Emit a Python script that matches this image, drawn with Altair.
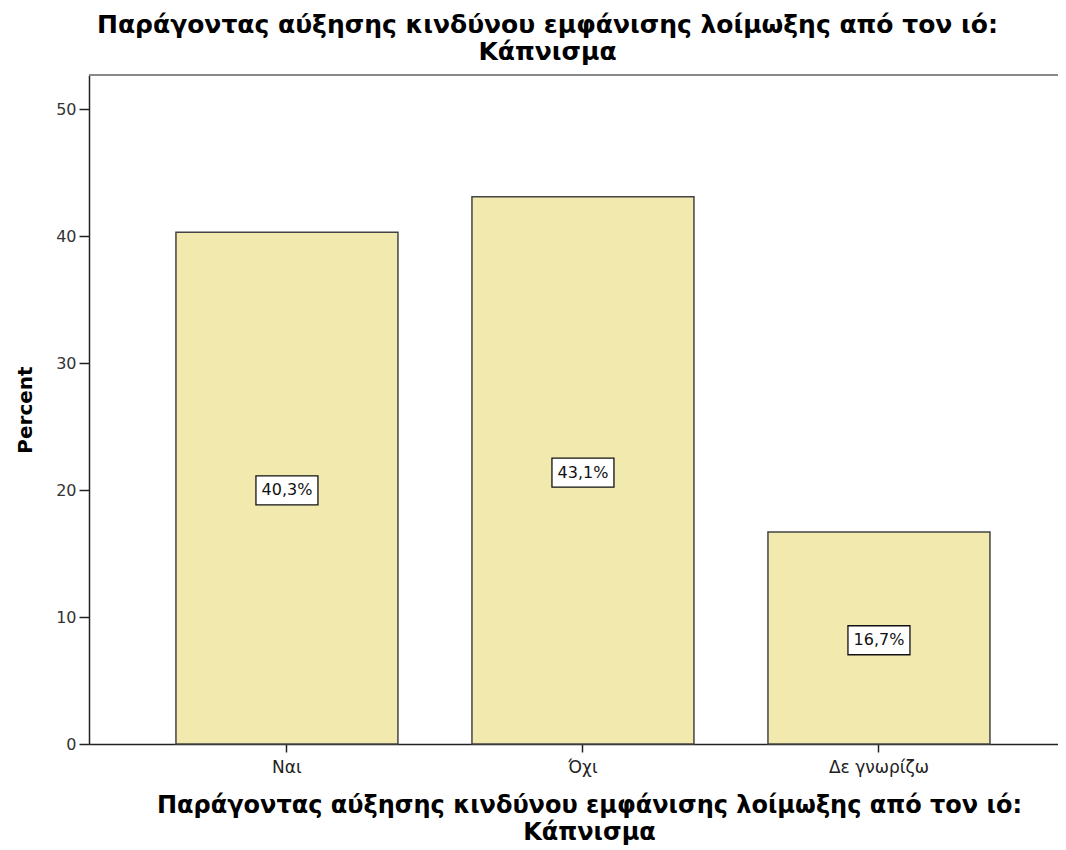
import altair as alt
import pandas as pd

categories = ["Ναι", "Όχι", "Δε γνωρίζω"]
percents = [40.3, 43.1, 16.7]
labels = ["40,3%", "43,1%", "16,7%"]

title_lines = ["Παράγοντας αύξησης κινδύνου εμφάνισης λοίμωξης από τον ιό:", "Κάπνισμα"]

df = pd.DataFrame({"cat": categories, "pct": percents, "lab": labels})

W, H = 969, 669

x_enc = alt.X(
    "cat:N",
    sort=categories,
    scale=alt.Scale(paddingInner=0.25, paddingOuter=0.2618, align=0.561),
    axis=alt.Axis(
        title=title_lines,
        titleFont="DejaVu Sans",
        titleFontSize=24,
        titleFontWeight="bold",
        titleColor="#000",
        titleLineHeight=27,
        titleX=500,
        titleY=49,
        titleBaseline="top",
        titleAlign="center",
        labelAngle=0,
        labelFont="DejaVu Sans",
        labelFontSize=17,
        labelColor="#222",
        labelPadding=7,
        tickSize=8,
        tickColor="#222",
        tickWidth=1.5,
        domainColor="#222",
        domainWidth=1.5,
    ),
)

y_scale = alt.Scale(domain=[0, 52.68], nice=False, zero=True)

bars = alt.Chart(df).mark_bar(
    fill="#F2E9AF", stroke="#444", strokeWidth=1.5, opacity=1
).encode(
    x=x_enc,
    y=alt.Y(
        "pct:Q",
        scale=y_scale,
        axis=alt.Axis(
            title="Percent",
            titleFont="DejaVu Sans",
            titleFontSize=20,
            titleFontWeight="bold",
            titleColor="#000",
            titleAngle=-90,
            titleX=-64,
            titleY=H / 2,
            titleBaseline="middle",
            titleAlign="center",
            values=[0, 10, 20, 30, 40, 50],
            labelFont="DejaVu Sans",
            labelFontSize=16,
            labelColor="#333",
            labelPadding=3,
            tickSize=10,
            tickColor="#222",
            tickWidth=1.5,
            domainColor="#222",
            domainWidth=1.5,
            grid=False,
        ),
    ),
)

top_border = alt.Chart(df).mark_rule(color="#888", strokeWidth=2).encode(
    x=alt.value(0), x2=alt.value(W + 8), y=alt.value(0)
)

boxes = alt.Chart(df).transform_calculate(mid="datum.pct / 2 - 0.18").mark_point(
    shape="M-1,-0.468L1,-0.468L1,0.468L-1,0.468Z",
    size=62 * 62,
    filled=True,
    fill="white",
    stroke="#111",
    strokeWidth=1.3,
    opacity=1,
).encode(
    x=alt.X("cat:N", sort=categories),
    y=alt.Y("mid:Q", scale=y_scale),
)

texts = alt.Chart(df).transform_calculate(mid="datum.pct / 2 - 0.18").mark_text(
    font="DejaVu Sans", fontSize=16, color="#111", baseline="middle", align="center"
).encode(
    x=alt.X("cat:N", sort=categories),
    y=alt.Y("mid:Q", scale=y_scale),
    text="lab:N",
)

chart = alt.layer(top_border, bars, boxes, texts).properties(
    width=W,
    height=H,
    autosize=alt.AutoSizeParams(type="none"),
    padding={"left": 81, "top": 67, "right": 0, "bottom": 106},
    title=alt.TitleParams(
        text=title_lines,
        font="DejaVu Sans",
        fontSize=25,
        fontWeight="bold",
        color="#000",
        anchor="middle",
        dx=-26,
        offset=9,
        lineHeight=27,
    ),
).configure_view(stroke=None)

chart.save("out.html", embed_options={"renderer": "svg", "actions": False})
